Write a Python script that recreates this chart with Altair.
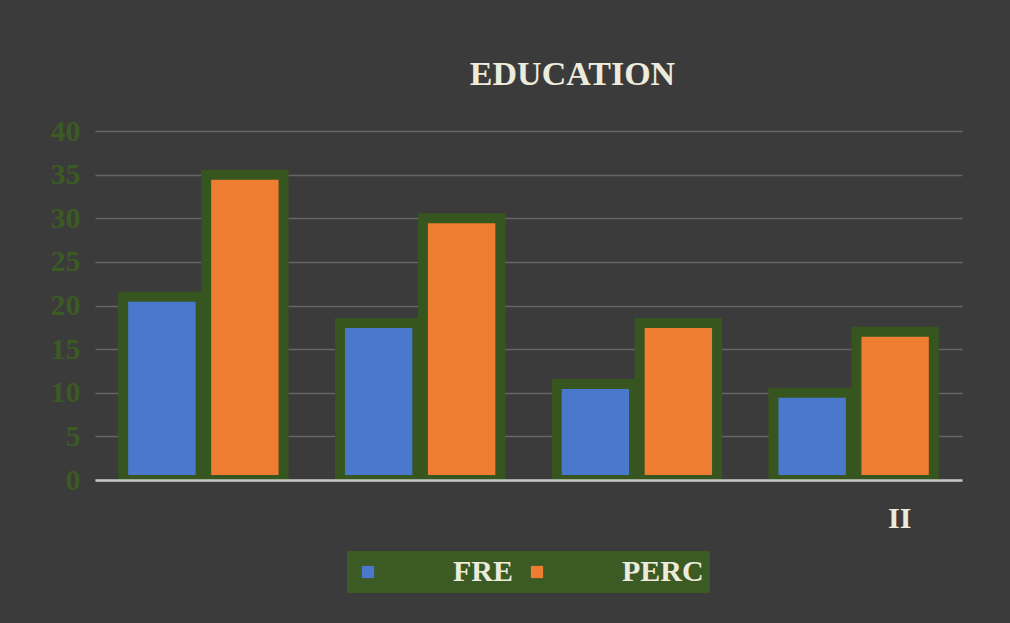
import altair as alt
import pandas as pd

# ---- data ----
categories = ["C1", "C2", "C3", "II"]   # only "II" is legible in the reference
series = ["FRE", "PERC"]
fre = [21, 18, 11, 10]
perc = [35, 30, 18, 17]
y_ticks = [0, 5, 10, 15, 20, 25, 30, 35, 40]
title_text = "EDUCATION"

rows = []
for c, f, p in zip(categories, fre, perc):
    rows.append({"cat": c, "series": series[0], "value": f})
    rows.append({"cat": c, "series": series[1], "value": p})
df = pd.DataFrame(rows)

GREEN = "#3b5a24"
BORDER = "#36551f"
TXT = "#ecebdc"
FONT = "Liberation Serif"

chart = alt.Chart(df).mark_bar(stroke=BORDER, strokeWidth=10, clip=True).encode(
    x=alt.X(
        "cat:N", sort=categories,
        scale=alt.Scale(paddingInner=0.26, paddingOuter=0.13),
        axis=alt.Axis(
            title=None, labelAngle=0,
            labelExpr="datum.value == 'II' ? 'II' : ''",
            labelFont=FONT, labelFontWeight="bold", labelFontSize=30,
            labelColor=TXT, labelOffset=46, labelPadding=23,
            ticks=False, domain=True, domainColor="#c8c8c8", domainWidth=2.5,
            grid=False, zindex=1,
        ),
    ),
    xOffset=alt.XOffset(
        "series:N", sort=series,
        scale=alt.Scale(paddingInner=0.067, paddingOuter=0),
    ),
    y=alt.Y(
        "value:Q",
        scale=alt.Scale(domain=[0, 40], nice=False),
        axis=alt.Axis(
            title=None, values=y_ticks, ticks=False, domain=False,
            labelFont=FONT, labelFontWeight="bold", labelFontSize=30,
            labelColor=GREEN, labelPadding=15, labelBaseline="middle",
            grid=True, gridColor="#666666", gridWidth=1.5, zindex=0,
        ),
    ),
    color=alt.Color(
        "series:N", sort=series,
        scale=alt.Scale(domain=series, range=["#4a78cc", "#ee7d31"]),
        legend=alt.Legend(
            title=None, orient="none", legendX=252, legendY=420,
            direction="horizontal", symbolType="square", symbolSize=150,
            symbolStrokeWidth=0, symbolOpacity=1,
            labelFont=FONT, labelFontWeight="bold", labelFontSize=30,
            labelColor=TXT, labelOffset=70, columnPadding=9,
            fillColor=GREEN, padding=6,
        ),
    ),
).properties(
    width=867,
    height=349,
    title=alt.Title(
        title_text, font=FONT, fontSize=34, fontWeight="bold", color=TXT,
        anchor="middle", frame="group", dx=44, offset=24,
    ),
    autosize=alt.AutoSizeParams(type="none"),
    padding={"left": 95, "top": 131, "right": 48, "bottom": 143},
    background="#3b3b3b",
).configure_view(stroke=None)

chart.save("out.html", embed_options={"renderer": "svg", "actions": False})
